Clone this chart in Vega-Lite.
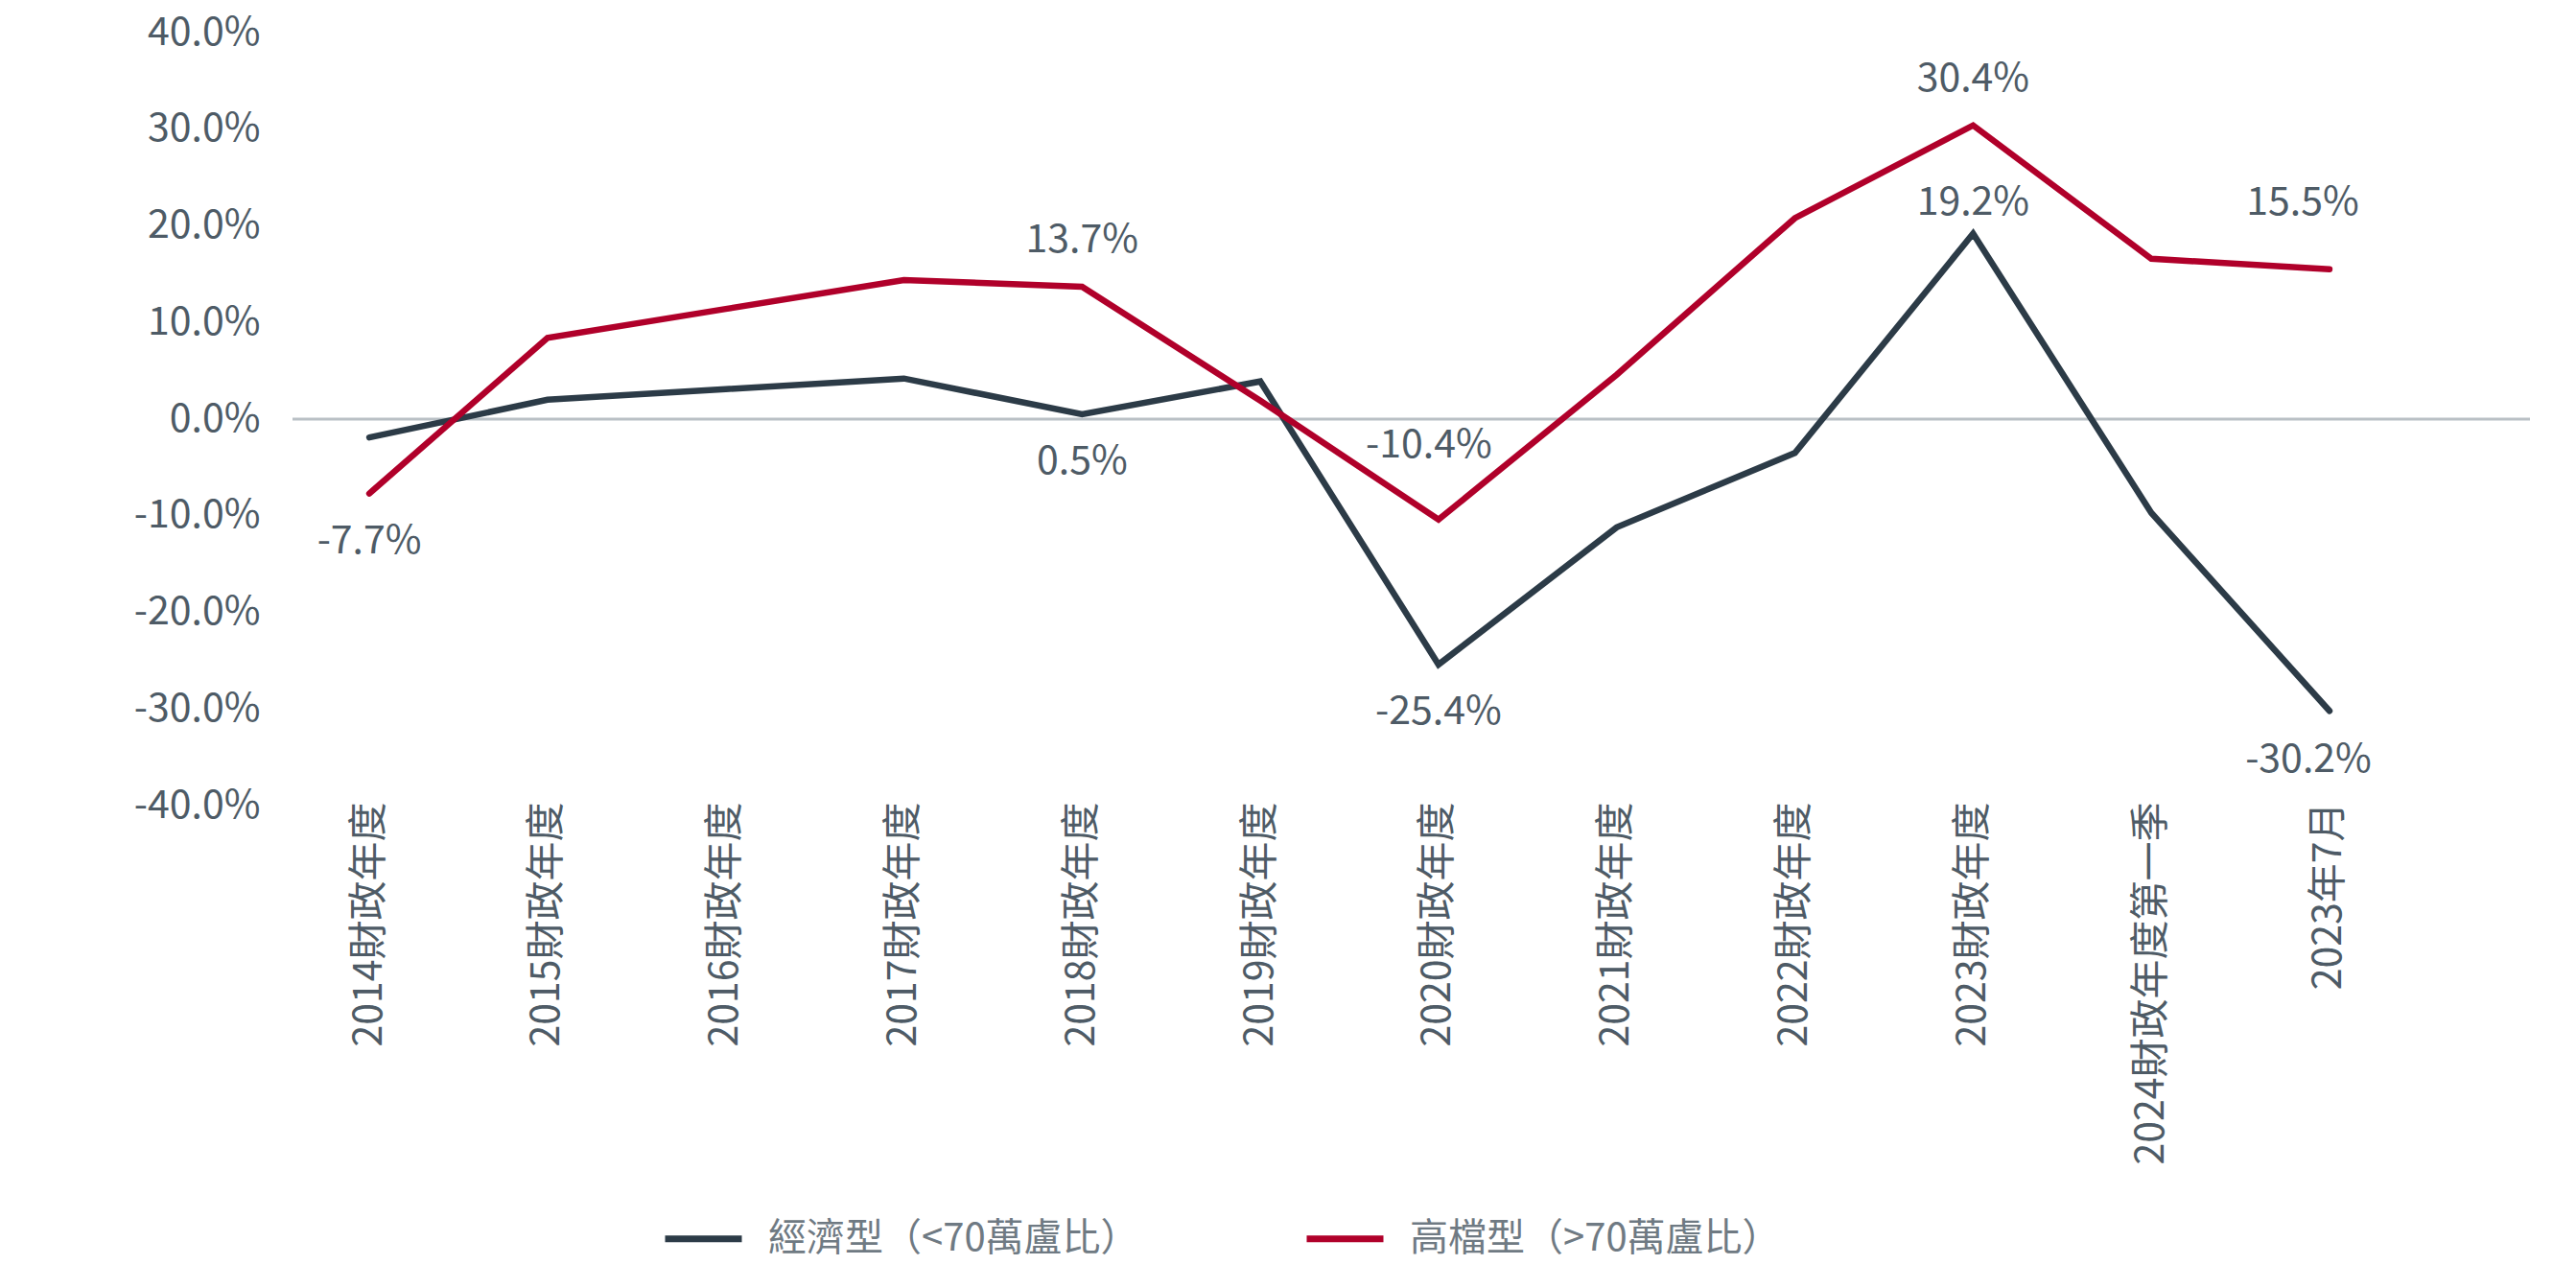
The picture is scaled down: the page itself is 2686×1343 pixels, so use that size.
{
  "$schema": "https://vega.github.io/schema/vega-lite/v6.json",
  "autosize": {"type": "none"},
  "width": 2333,
  "height": 806,
  "padding": {"left": 305, "top": 34, "right": 48, "bottom": 503},
  "background": "#ffffff",
  "config": {
    "view": {"stroke": null},
    "font": "Noto Sans CJK TC",
    "text": {"font": "Noto Sans CJK TC"},
    "locale": {
      "number": {"decimal": ".", "thousands": ",", "grouping": [3], "currency": ["", ""], "minus": "-"}
    }
  },
  "data": {
    "values": [
      {"period": "2014財政年度", "series": "經濟型（<70萬盧比）", "value": -0.019},
      {"period": "2015財政年度", "series": "經濟型（<70萬盧比）", "value": 0.020},
      {"period": "2016財政年度", "series": "經濟型（<70萬盧比）", "value": 0.031},
      {"period": "2017財政年度", "series": "經濟型（<70萬盧比）", "value": 0.042},
      {"period": "2018財政年度", "series": "經濟型（<70萬盧比）", "value": 0.005},
      {"period": "2019財政年度", "series": "經濟型（<70萬盧比）", "value": 0.039},
      {"period": "2020財政年度", "series": "經濟型（<70萬盧比）", "value": -0.254},
      {"period": "2021財政年度", "series": "經濟型（<70萬盧比）", "value": -0.112},
      {"period": "2022財政年度", "series": "經濟型（<70萬盧比）", "value": -0.035},
      {"period": "2023財政年度", "series": "經濟型（<70萬盧比）", "value": 0.192},
      {"period": "2024財政年度第一季", "series": "經濟型（<70萬盧比）", "value": -0.097},
      {"period": "2023年7月", "series": "經濟型（<70萬盧比）", "value": -0.302},
      {"period": "2014財政年度", "series": "高檔型（>70萬盧比）", "value": -0.077},
      {"period": "2015財政年度", "series": "高檔型（>70萬盧比）", "value": 0.084},
      {"period": "2016財政年度", "series": "高檔型（>70萬盧比）", "value": 0.114},
      {"period": "2017財政年度", "series": "高檔型（>70萬盧比）", "value": 0.144},
      {"period": "2018財政年度", "series": "高檔型（>70萬盧比）", "value": 0.137},
      {"period": "2019財政年度", "series": "高檔型（>70萬盧比）", "value": 0.019},
      {"period": "2020財政年度", "series": "高檔型（>70萬盧比）", "value": -0.104},
      {"period": "2021財政年度", "series": "高檔型（>70萬盧比）", "value": 0.046},
      {"period": "2022財政年度", "series": "高檔型（>70萬盧比）", "value": 0.208},
      {"period": "2023財政年度", "series": "高檔型（>70萬盧比）", "value": 0.304},
      {"period": "2024財政年度第一季", "series": "高檔型（>70萬盧比）", "value": 0.166},
      {"period": "2023年7月", "series": "高檔型（>70萬盧比）", "value": 0.155}
    ]
  },
  "encoding": {
    "x": {
      "field": "period",
      "type": "ordinal",
      "scale": {
        "type": "point",
        "domain": ["2014財政年度", "2015財政年度", "2016財政年度", "2017財政年度", "2018財政年度", "2019財政年度", "2020財政年度", "2021財政年度", "2022財政年度", "2023財政年度", "2024財政年度第一季", "2023年7月"],
        "padding": 0.778,
        "align": 0.277
      },
      "axis": {
        "title": null,
        "labelAngle": -90,
        "labelFontSize": 41,
        "labelColor": "#4e5b66",
        "labelPadding": -4,
        "labelLimit": 0,
        "ticks": false,
        "domain": false,
        "grid": false,
        "labelFont": "Noto Sans CJK TC"
      }
    },
    "y": {
      "field": "value",
      "type": "quantitative",
      "scale": {"domain": [-0.4, 0.4], "nice": false, "zero": false},
      "axis": {
        "title": null,
        "values": [-0.4, -0.3, -0.2, -0.1, 0, 0.1, 0.2, 0.3, 0.4],
        "format": ".1%",
        "labelFontSize": 41,
        "labelColor": "#4e5b66",
        "labelPadding": 34,
        "ticks": false,
        "domain": false,
        "grid": false,
        "labelFont": "Noto Sans CJK TC"
      }
    }
  },
  "layer": [
    {
      "data": {"values": [{"base": 0}]},
      "mark": {"type": "rule", "color": "#b9c0c5", "strokeWidth": 3},
      "encoding": {"x": null, "y": {"field": "base", "type": "quantitative"}}
    },
    {
      "mark": {"type": "line", "strokeWidth": 6.5, "strokeJoin": "miter", "strokeCap": "round"},
      "encoding": {
        "color": {
          "field": "series",
          "type": "nominal",
          "scale": {
            "domain": ["經濟型（<70萬盧比）", "高檔型（>70萬盧比）"],
            "range": ["#2c3b47", "#b0002a"]
          },
          "legend": {
            "title": null,
            "orient": "none",
            "direction": "horizontal",
            "legendX": 385,
            "legendY": 1214,
            "symbolType": "stroke",
            "symbolSize": 6400,
            "symbolStrokeWidth": 7,
            "labelFontSize": 40,
            "labelColor": "#6f7a83",
            "labelFont": "Noto Sans CJK TC",
            "labelOffset": 24,
            "columnPadding": 160,
            "labelLimit": 0,
            "padding": 0
          }
        }
      }
    },
    {
      "transform": [{"filter": "datum.series == '高檔型（>70萬盧比）' && indexof(['2018財政年度', '2023財政年度'], datum.period) >= 0"}],
      "mark": {"type": "text", "dy": -48, "fontSize": 41, "color": "#4e5b66", "font": "Noto Sans CJK TC"},
      "encoding": {"text": {"field": "value", "type": "quantitative", "format": ".1%"}}
    },
    {
      "transform": [{"filter": "datum.series == '高檔型（>70萬盧比）' && datum.period == '2020財政年度'"}],
      "mark": {"type": "text", "dy": -77, "dx": -10, "fontSize": 41, "color": "#4e5b66", "font": "Noto Sans CJK TC"},
      "encoding": {"text": {"field": "value", "type": "quantitative", "format": ".1%"}}
    },
    {
      "transform": [{"filter": "datum.series == '高檔型（>70萬盧比）' && datum.period == '2023年7月'"}],
      "mark": {"type": "text", "dy": -69, "dx": -28, "fontSize": 41, "color": "#4e5b66", "font": "Noto Sans CJK TC"},
      "encoding": {"text": {"field": "value", "type": "quantitative", "format": ".1%"}}
    },
    {
      "transform": [{"filter": "datum.series == '經濟型（<70萬盧比）' && datum.period == '2023財政年度'"}],
      "mark": {"type": "text", "dy": -32, "fontSize": 41, "color": "#4e5b66", "font": "Noto Sans CJK TC"},
      "encoding": {"text": {"field": "value", "type": "quantitative", "format": ".1%"}}
    },
    {
      "transform": [{"filter": "(datum.series == '高檔型（>70萬盧比）' && datum.period == '2014財政年度') || (datum.series == '經濟型（<70萬盧比）' && indexof(['2018財政年度', '2020財政年度'], datum.period) >= 0)"}],
      "mark": {"type": "text", "dy": 50, "fontSize": 41, "color": "#4e5b66", "font": "Noto Sans CJK TC"},
      "encoding": {"text": {"field": "value", "type": "quantitative", "format": ".1%"}}
    },
    {
      "transform": [{"filter": "datum.series == '經濟型（<70萬盧比）' && datum.period == '2023年7月'"}],
      "mark": {"type": "text", "dy": 52, "dx": -22, "fontSize": 41, "color": "#4e5b66", "font": "Noto Sans CJK TC"},
      "encoding": {"text": {"field": "value", "type": "quantitative", "format": ".1%"}}
    }
  ]
}
